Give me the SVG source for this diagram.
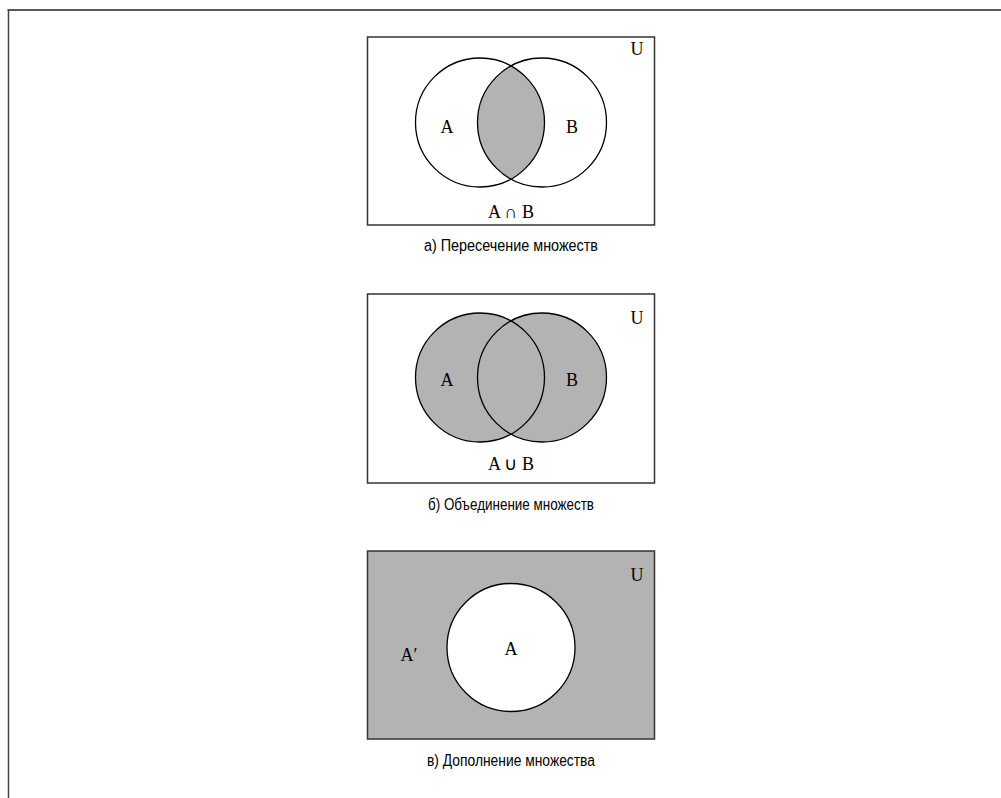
<svg xmlns="http://www.w3.org/2000/svg" width="1001" height="798" viewBox="0 0 1001 798">
<style>
.frame{fill:none;stroke:#222;stroke-width:1.5}
.box{stroke:#333;stroke-width:1.5}
.c{stroke:#000;stroke-width:1.3}
.lbl{font-family:"Liberation Serif",serif;font-size:18px;fill:#000;text-anchor:middle}
.cap{font-family:"Liberation Sans",Arial,sans-serif;font-size:16px;fill:#000;text-anchor:middle}
</style>
<defs>
<clipPath id="clipA"><circle cx="480" cy="122.5" r="64.5"/></clipPath>
</defs>
<rect width="1001" height="798" fill="#fff"/>
<g id="outer-frame">
<line x1="7.5" y1="10" x2="1001" y2="10" class="frame"/>
<line x1="8.5" y1="9.5" x2="8.5" y2="798" class="frame" stroke-width="2" style="stroke:#444"/>
</g>
<g id="intersection">
<rect x="367.5" y="37" width="287" height="188" fill="#fff" class="box"/>
<circle cx="542" cy="122.5" r="64.5" fill="#b3b3b3" clip-path="url(#clipA)"/>
<circle cx="480" cy="122.5" r="64.5" fill="none" class="c"/>
<circle cx="542" cy="122.5" r="64.5" fill="none" class="c"/>
<text x="447" y="133" class="lbl">A</text>
<text x="572" y="133" class="lbl">B</text>
<text x="637" y="55" class="lbl">U</text>
<text x="511" y="218" class="lbl">A ∩ B</text>
<text x="511" y="251" class="cap" textLength="174" lengthAdjust="spacingAndGlyphs">а) Пересечение множеств</text>
</g>
<g id="union">
<rect x="367.5" y="294" width="287" height="189" fill="#fff" class="box"/>
<circle cx="480" cy="377.5" r="64.5" fill="#b3b3b3"/>
<circle cx="542" cy="377.5" r="64.5" fill="#b3b3b3"/>
<circle cx="480" cy="377.5" r="64.5" fill="none" class="c"/>
<circle cx="542" cy="377.5" r="64.5" fill="none" class="c"/>
<text x="447" y="386" class="lbl">A</text>
<text x="572" y="386" class="lbl">B</text>
<text x="637" y="324" class="lbl">U</text>
<text x="511" y="470" class="lbl">A ∪ B</text>
<text x="511" y="510" class="cap" textLength="166" lengthAdjust="spacingAndGlyphs">б) Объединение множеств</text>
</g>
<g id="complement">
<rect x="367.5" y="551" width="287" height="188" fill="#b3b3b3" class="box"/>
<circle cx="511" cy="647.5" r="64" fill="#fff" class="c"/>
<text x="511" y="655" class="lbl">A</text>
<text x="409" y="661" class="lbl">A′</text>
<text x="637" y="581" class="lbl">U</text>
<text x="511" y="766" class="cap" textLength="168" lengthAdjust="spacingAndGlyphs">в) Дополнение множества</text>
</g>
</svg>
